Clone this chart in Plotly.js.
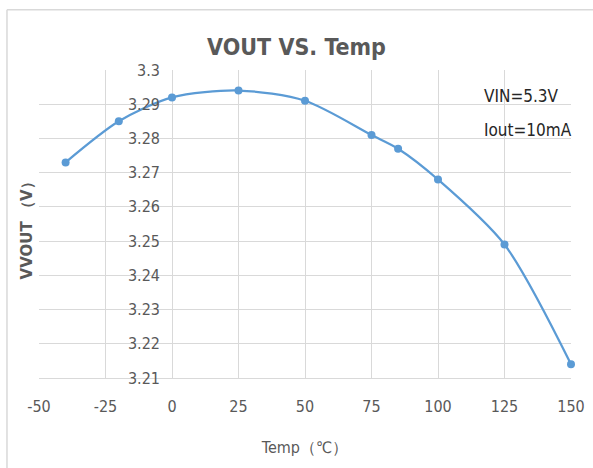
<!DOCTYPE html>
<html>
<head>
<meta charset="utf-8">
<script src="https://cdn.plot.ly/plotly-3.0.1.min.js"></script>
<style>html,body{margin:0;padding:0;background:#fff;}#chart{width:593px;height:468px;}</style>
</head>
<body>
<div id="chart"></div>
<script>
const temps = [-40, -20, 0, 25, 50, 75, 85, 100, 125, 150];
const vout = [3.273, 3.285, 3.292, 3.294, 3.291, 3.281, 3.277, 3.268, 3.249, 3.214];
const xTicks = [-50, -25, 0, 25, 50, 75, 100, 125, 150];
const yTicks = [3.21, 3.22, 3.23, 3.24, 3.25, 3.26, 3.27, 3.28, 3.29, 3.3];
const yTickText = ['3.21', '3.22', '3.23', '3.24', '3.25', '3.26', '3.27', '3.28', '3.29', '3.3'];
const notes = ['VIN=5.3V', 'Iout=10mA'];

const FONT = '"DejaVu Sans Condensed", "Liberation Sans Narrow", "Liberation Sans", sans-serif';
const GREY = '#595959';

const trace = {
  x: temps, y: vout, type: 'scatter', mode: 'lines+markers',
  line: {color: '#5B9BD5', width: 2.25, shape: 'spline', smoothing: 0.8},
  marker: {color: '#5B9BD5', size: 8},
  cliponaxis: false, showlegend: false
};

const layout = {
  width: 593, height: 468,
  margin: {l: 39, r: 22, t: 70, b: 90},
  paper_bgcolor: '#fff', plot_bgcolor: '#fff',
  title: {text: '<b>VOUT VS. Temp</b>', font: {family: FONT, size: 23, color: GREY}, x: 0.5, xanchor: 'center', y: 0.9, yref: 'container', yanchor: 'middle'},
  xaxis: {
    range: [-50, 150], tickvals: xTicks, ticktext: xTicks.map(String),
    showgrid: true, gridcolor: '#d9d9d9', gridwidth: 1,
    zeroline: false, showline: true, linecolor: '#d9d9d9', linewidth: 1,
    ticks: '', ticklen: 0, ticklabelstandoff: 14,
    tickfont: {family: FONT, size: 16, color: GREY},
    title: {text: 'Temp（℃）', font: {family: FONT, size: 16, color: GREY}, standoff: 26},
    fixedrange: true
  },
  yaxis: {
    range: [3.21, 3.3], tickvals: yTicks, ticktext: yTickText,
    anchor: 'free', position: 0.25,
    showgrid: true, gridcolor: '#d9d9d9', gridwidth: 1,
    zeroline: false, showline: false, ticks: '', ticklabelstandoff: 12,
    tickfont: {family: FONT, size: 16, color: GREY},
    fixedrange: true
  },
  shapes: [
    {type: 'line', xref: 'paper', yref: 'paper', x0: -0.0602, x1: 1.05, y0: 1.196, y1: 1.196, line: {color: '#d9d9d9', width: 1.5}},
    {type: 'line', xref: 'paper', yref: 'paper', x0: -0.0602, x1: -0.0602, y0: 1.196, y1: -0.3, line: {color: '#d9d9d9', width: 1.5}}
  ],
  annotations: [
    {text: notes[0], xref: 'paper', yref: 'paper', x: 0.833, y: 0.915, xanchor: 'left', yanchor: 'middle', showarrow: false, font: {family: FONT, size: 17, color: '#262626'}},
    {text: notes[1], xref: 'paper', yref: 'paper', x: 0.833, y: 0.805, xanchor: 'left', yanchor: 'middle', showarrow: false, font: {family: FONT, size: 17, color: '#262626'}},
    {text: '<b>VVOUT （V）</b>', xref: 'paper', yref: 'paper', x: -0.022, y: 0.49, xanchor: 'center', yanchor: 'middle', textangle: -90, showarrow: false, font: {family: '"DejaVu Sans", sans-serif', size: 15, color: GREY}}
  ]
};

Plotly.newPlot('chart', [trace], layout, {displayModeBar: false, staticPlot: true});
</script>
</body>
</html>
